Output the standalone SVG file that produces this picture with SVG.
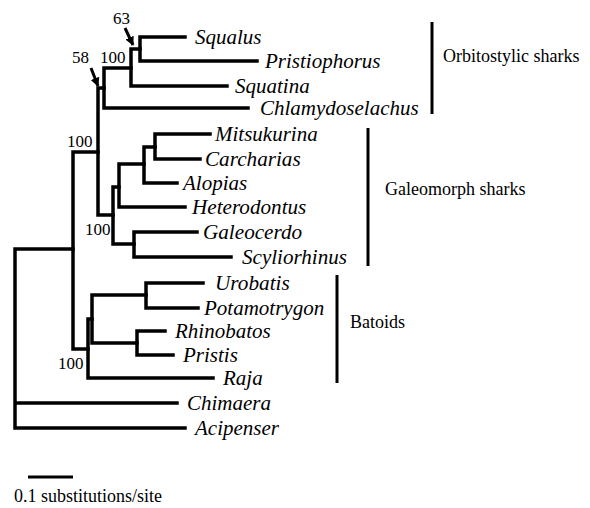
<svg xmlns="http://www.w3.org/2000/svg" width="590" height="508" viewBox="0 0 590 508">
<defs>
<style>
.br{fill:none;stroke:#000;stroke-width:3.5;stroke-linecap:square;stroke-linejoin:miter}
.bar{stroke:#000;stroke-width:3}
.tx{font-style:italic;font-size:21px;fill:#000}
.lb{font-size:18px;fill:#000}
.num{font-size:17px;fill:#000}
.ar{stroke:#000;stroke-width:3;fill:none}
</style>
<marker id="ah" viewBox="0 0 10 10" refX="9" refY="5" markerWidth="3" markerHeight="3" orient="auto" markerUnits="strokeWidth">
<path d="M0,0 L10,5 L0,10 Z" fill="#000"/>
</marker>
</defs>
<rect width="590" height="508" fill="#fff"/>
<g id="connectors">
<path class="br" d="M140,37 V61 M140,37 H185 M140,61 H257"/>
<path class="br" d="M131,49 V86 M131,49 H140 M131,86 H227"/>
<path class="br" d="M104,68 V108 M104,68 H131 M104,108 H248"/>
<path class="br" d="M98,88 V215 M98,88 H104 M98,215 H113"/>
<path class="br" d="M155,134 V159 M155,134 H210 M155,159 H200"/>
<path class="br" d="M144,147 V183 M144,147 H155 M144,183 H177"/>
<path class="br" d="M119,164 V207 M119,164 H144 M119,207 H185"/>
<path class="br" d="M134,232 V257 M134,232 H197 M134,257 H231"/>
<path class="br" d="M113,187 V244 M113,187 H119 M113,244 H134"/>
<path class="br" d="M73,152 V349 M73,152 H98 M73,349 H88"/>
<path class="br" d="M146,283 V308 M146,283 H203 M146,308 H198"/>
<path class="br" d="M137,331 V355 M137,331 H165 M137,355 H173"/>
<path class="br" d="M92,295 V343 M92,295 H146 M92,343 H137"/>
<path class="br" d="M88,319 V378 M88,319 H92 M88,378 H213"/>
<path class="br" d="M15,249 V428 M15,249 H73 M15,403 H177 M15,428 H185"/>
<line class="ar" x1="125" y1="28" x2="133" y2="45" marker-end="url(#ah)"/>
<line class="ar" x1="91" y1="68" x2="98" y2="86" marker-end="url(#ah)"/>
<line class="bar" x1="432" y1="22" x2="432" y2="114"/>
<line class="bar" x1="368" y1="128" x2="368" y2="266"/>
<line class="bar" x1="337" y1="275" x2="337" y2="383"/>
<line class="bar" x1="28" y1="477" x2="73" y2="477"/>
</g>
<g id="labels" font-family="Liberation Serif, DejaVu Serif, serif">
<g id="support">
<text class="num" x="113" y="24">63</text>
<text class="num" x="100" y="63">100</text>
<text class="num" x="72" y="63">58</text>
<text class="num" x="67" y="147">100</text>
<text class="num" x="85" y="235">100</text>
<text class="num" x="58" y="369">100</text>
</g>
<g id="n-squalus"><text class="tx" x="195" y="44" textLength="66.5" lengthAdjust="spacingAndGlyphs">Squalus</text></g>
<g id="n-pristiophorus"><text class="tx" x="265" y="68" textLength="115.5" lengthAdjust="spacingAndGlyphs">Pristiophorus</text></g>
<g id="n-squatina"><text class="tx" x="235" y="93" textLength="74.7" lengthAdjust="spacingAndGlyphs">Squatina</text></g>
<g id="n-chlamydoselachus"><text class="tx" x="260" y="115" textLength="158.7" lengthAdjust="spacingAndGlyphs">Chlamydoselachus</text></g>
<g id="n-mitsukurina"><text class="tx" x="215" y="141" textLength="102.7" lengthAdjust="spacingAndGlyphs">Mitsukurina</text></g>
<g id="n-carcharias"><text class="tx" x="205" y="166" textLength="95.7" lengthAdjust="spacingAndGlyphs">Carcharias</text></g>
<g id="n-alopias"><text class="tx" x="183" y="190" textLength="64.2" lengthAdjust="spacingAndGlyphs">Alopias</text></g>
<g id="n-heterodontus"><text class="tx" x="192" y="214" textLength="114.3" lengthAdjust="spacingAndGlyphs">Heterodontus</text></g>
<g id="n-galeocerdo"><text class="tx" x="203" y="239" textLength="99.1" lengthAdjust="spacingAndGlyphs">Galeocerdo</text></g>
<g id="n-scyliorhinus"><text class="tx" x="242" y="264" textLength="105" lengthAdjust="spacingAndGlyphs">Scyliorhinus</text></g>
<g id="n-urobatis"><text class="tx" x="215" y="290" textLength="74.7" lengthAdjust="spacingAndGlyphs">Urobatis</text></g>
<g id="n-potamotrygon"><text class="tx" x="204" y="315" textLength="120.2" lengthAdjust="spacingAndGlyphs">Potamotrygon</text></g>
<g id="n-rhinobatos"><text class="tx" x="175" y="338" textLength="95.7" lengthAdjust="spacingAndGlyphs">Rhinobatos</text></g>
<g id="n-pristis"><text class="tx" x="183" y="362" textLength="54.9" lengthAdjust="spacingAndGlyphs">Pristis</text></g>
<g id="n-raja"><text class="tx" x="223" y="385" textLength="39.7" lengthAdjust="spacingAndGlyphs">Raja</text></g>
<g id="n-chimaera"><text class="tx" x="187" y="410" textLength="84" lengthAdjust="spacingAndGlyphs">Chimaera</text></g>
<g id="n-acipenser"><text class="tx" x="195" y="435" textLength="84" lengthAdjust="spacingAndGlyphs">Acipenser</text></g>
<g id="g-orbitostylic"><text class="lb" x="443" y="62">Orbitostylic sharks</text></g>
<g id="g-galeomorph"><text class="lb" x="385" y="195">Galeomorph sharks</text></g>
<g id="g-batoids"><text class="lb" x="350" y="328">Batoids</text></g>
<g id="scale"><text class="lb" x="14" y="502">0.1 substitutions/site</text></g>
</g>
</svg>
